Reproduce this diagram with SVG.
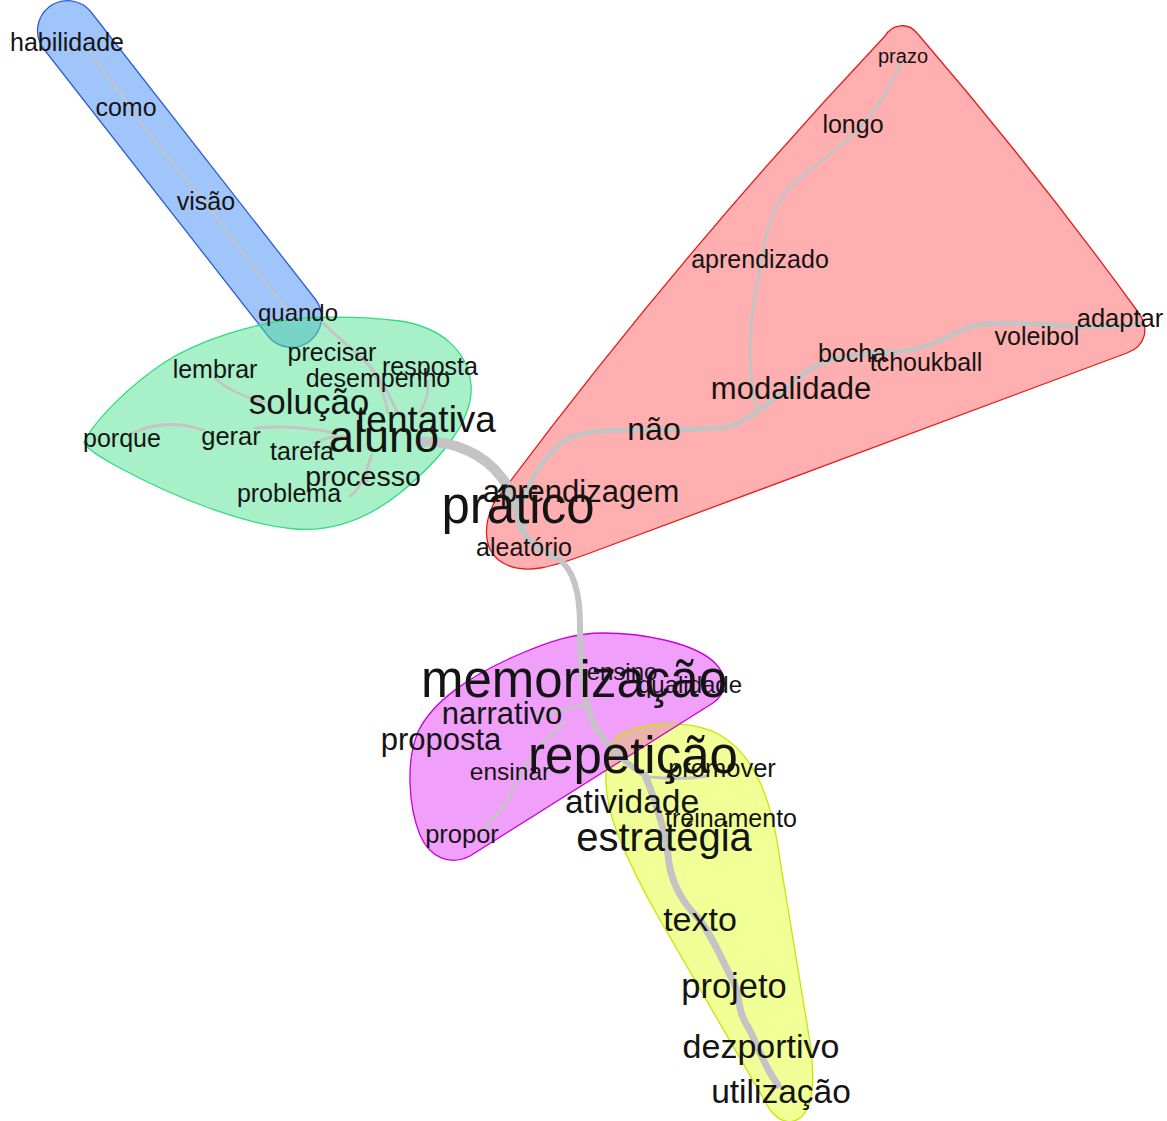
<svg xmlns="http://www.w3.org/2000/svg" width="1167" height="1121" viewBox="0 0 1167 1121">
  <style>
    .hull { stroke-width: 1.3; fill-opacity: 0.5; }
    .rim { fill: none; stroke-width: 1.3; }
    .edge { fill: none; stroke: #c4c4c4; stroke-linecap: round; stroke-linejoin: round; }
    text { font-family: "Liberation Sans", Arial, sans-serif; fill: #141414; text-anchor: middle; }
  </style>
  <defs>
    <path id="shape-magenta" d="M603,633 C640,633 695,642 716,664 C729,678 726,694 713,703 L470,856 C450,866 430,858 420,835 C408,805 406,760 418,732 C432,702 470,675 520,654 C550,641 575,633 603,633 Z"/>
    <path id="shape-yellow" d="M617,737 C640,722 690,718 720,735 C755,755 772,800 780,860 L808,1030 C815,1070 816,1105 800,1118 C790,1125 780,1122 770,1110 L660,920 C640,885 628,860 618,835 C604,800 600,760 617,737 Z"/>
    <clipPath id="clip-magenta"><use href="#shape-magenta"/></clipPath>
  </defs>
  <rect width="1167" height="1121" fill="#ffffff"/>

  <!-- community hulls -->
  <g id="hulls">
    <path id="hull-blue" class="hull" fill="#418bf5" stroke="#2f5fd0" d="M90.6,11.5 L315.6,299.5 A30,30 0 0 1 268.4,336.5 L43.4,48.5 A30,30 0 0 1 90.6,11.5 Z"/>
    <path id="hull-green" class="hull" fill="#51e191" stroke="#2fdc84" d="M287,320 C310,316 360,316 400,321 C440,327 468,350 471,385 C474,420 440,460 400,493 C370,517 335,532 295,529 C240,524 170,495 120,468 C100,457 85,448 84,442 C95,420 130,385 165,362 C200,340 250,325 287,320 Z"/>
    <path id="hull-red" class="hull" fill="#ff5f5f" stroke="#e41e1e" d="M885,36 C892,24 908,22 917,33 Q1035,170 1138,312 C1150,328 1146,346 1127,353 L590,553 C555,566 525,576 503,563 C484,552 482,527 494,503 Q676,258 885,36 Z"/>
    <use id="hull-yellow" href="#shape-yellow" fill="#e1ff2d" fill-opacity="0.5"/>
    <use id="hull-magenta" href="#shape-magenta" fill="#e141f5" fill-opacity="0.5"/>
    <!-- where the yellow and magenta hulls overlap -->
    <use href="#shape-yellow" fill="#ebb2ae" clip-path="url(#clip-magenta)"/>
    <use href="#shape-yellow" class="rim" stroke="#c8e600"/>
    <use href="#shape-magenta" class="rim" stroke="#c800dc"/>
  </g>

  <!-- co-occurrence edges -->
  <g id="edges">
    <path class="edge" stroke="#bccbe3" stroke-width="2" d="M90,52 C110,80 125,100 135,115 C160,150 195,190 215,215 C240,250 270,290 295,318"/>
    <path class="edge" stroke-width="3" d="M323,323 C335,335 348,345 355,352 C370,365 382,378 397,412"/>
    <path class="edge" stroke-width="2.5" d="M370,367 C378,380 385,395 388,413"/>
    <path class="edge" stroke-width="2.5" d="M427,380 C430,392 426,402 420,412"/>
    <path class="edge" stroke-width="2.5" d="M215,378 C225,388 245,398 265,402"/>
    <path class="edge" stroke-width="3" d="M133,433 C150,425 175,420 203,430"/>
    <path class="edge" stroke-width="3" d="M255,428 C280,426 305,427 335,433"/>
    <path class="edge" stroke-width="2.5" d="M313,443 C325,438 335,436 345,436"/>
    <path class="edge" stroke-width="3" d="M372,455 C368,463 366,472 367,482"/>
    <path class="edge" stroke-width="2.5" d="M362,480 C360,486 356,492 350,496"/>
    <path class="edge" stroke-width="10" d="M420,442 C455,440 485,455 502,478 C515,495 518,510 522,528"/>
    <path class="edge" stroke-width="5" d="M524,500 C530,478 545,455 565,440 C585,430 610,430 640,430 C670,430 700,430 726,427 C745,422 760,410 775,398 C790,385 805,370 822,363 C840,356 870,352 897,352 C915,350 928,346 940,341 C955,334 965,326 985,324 C1010,322 1040,324 1070,326 C1095,328 1120,326 1140,324"/>
    <path class="edge" stroke="#dcbcbc" stroke-width="3" d="M901,62 C890,90 875,110 862,125 C830,160 795,175 780,200 C765,225 762,260 756,290 C750,320 746,360 756,410"/>
    <path class="edge" stroke-width="6" d="M522,528 C528,545 545,552 560,560 C575,572 580,595 580,625 C580,660 582,690 590,715 C600,740 620,760 645,775"/>
    <path class="edge" stroke-width="3" d="M585,705 C570,708 555,712 540,716"/>
    <path class="edge" stroke-width="3" d="M565,722 C545,740 530,755 522,772 C510,800 495,818 480,833"/>
    <path class="edge" stroke-width="3" d="M650,777 C670,779 690,779 708,776"/>
    <path class="edge" stroke-width="7" d="M645,775 C655,800 665,830 668,855 C670,880 680,900 698,918 C712,935 722,960 735,985 C740,1000 738,1012 748,1027 C758,1045 763,1065 778,1085"/>
  </g>

  <!-- word nodes: blue community -->
  <g id="n-habilidade"><text x="67" y="51" font-size="25">habilidade</text></g>
  <g id="n-como"><text x="126" y="116" font-size="25">como</text></g>
  <g id="n-visao"><text x="206" y="210" font-size="25">visão</text></g>
  <g id="n-quando"><text x="298" y="321" font-size="24">quando</text></g>

  <!-- green community -->
  <g id="n-precisar"><text x="332" y="361" font-size="25">precisar</text></g>
  <g id="n-lembrar"><text x="215" y="378" font-size="25">lembrar</text></g>
  <g id="n-resposta"><text x="430" y="375" font-size="25">resposta</text></g>
  <g id="n-desempenho"><text x="378" y="387" font-size="25">desempenho</text></g>
  <g id="n-solucao"><text x="309" y="414" font-size="35">solução</text></g>
  <g id="n-tentativa"><text x="426" y="432" font-size="37">tentativa</text></g>
  <g id="n-aluno"><text x="384" y="452" font-size="45">aluno</text></g>
  <g id="n-porque"><text x="122" y="447" font-size="25">porque</text></g>
  <g id="n-gerar"><text x="231" y="445" font-size="25.5">gerar</text></g>
  <g id="n-tarefa"><text x="302" y="460" font-size="25">tarefa</text></g>
  <g id="n-processo"><text x="363" y="486" font-size="28.5">processo</text></g>
  <g id="n-problema"><text x="289" y="502" font-size="25">problema</text></g>

  <!-- red community -->
  <g id="n-prazo"><text x="903" y="63" font-size="20">prazo</text></g>
  <g id="n-longo"><text x="853" y="133" font-size="25">longo</text></g>
  <g id="n-aprendizado"><text x="760" y="268" font-size="25">aprendizado</text></g>
  <g id="n-adaptar"><text x="1120" y="327" font-size="25.5">adaptar</text></g>
  <g id="n-voleibol"><text x="1037" y="345" font-size="25">voleibol</text></g>
  <g id="n-bocha"><text x="852" y="362" font-size="25">bocha</text></g>
  <g id="n-tchoukball"><text x="926" y="371" font-size="25">tchoukball</text></g>
  <g id="n-modalidade"><text x="791" y="399" font-size="31">modalidade</text></g>
  <g id="n-nao"><text x="654" y="440" font-size="32">não</text></g>
  <g id="n-aprendizagem"><text x="581" y="502" font-size="31">aprendizagem</text></g>
  <g id="n-pratico"><text x="518" y="523" font-size="51">prático</text></g>
  <g id="n-aleatorio"><text x="524" y="556" font-size="25">aleatório</text></g>

  <!-- magenta community -->
  <g id="n-ensino"><text x="622" y="680" font-size="24">ensino</text></g>
  <g id="n-qualidade"><text x="690" y="693" font-size="24">qualidade</text></g>
  <g id="n-memorizacao"><text x="574" y="697" font-size="51">memorização</text></g>
  <g id="n-narrativo"><text x="502" y="724" font-size="31">narrativo</text></g>
  <g id="n-proposta"><text x="441" y="750" font-size="31">proposta</text></g>
  <g id="n-ensinar"><text x="510" y="780" font-size="24.5">ensinar</text></g>
  <g id="n-repeticao"><text x="633" y="773" font-size="51">repetição</text></g>
  <g id="n-propor"><text x="462" y="843" font-size="25.5">propor</text></g>

  <!-- yellow community -->
  <g id="n-promover"><text x="722" y="777" font-size="25.5">promover</text></g>
  <g id="n-treinamento"><text x="731" y="827" font-size="25">treinamento</text></g>
  <g id="n-atividade"><text x="632" y="813" font-size="33.5">atividade</text></g>
  <g id="n-estrategia"><text x="664" y="851" font-size="40">estratégia</text></g>
  <g id="n-texto"><text x="700" y="931" font-size="34">texto</text></g>
  <g id="n-projeto"><text x="734" y="998" font-size="34.5">projeto</text></g>
  <g id="n-dezportivo"><text x="761" y="1058" font-size="34">dezportivo</text></g>
  <g id="n-utilizacao"><text x="781" y="1103" font-size="33.5">utilização</text></g>
</svg>
